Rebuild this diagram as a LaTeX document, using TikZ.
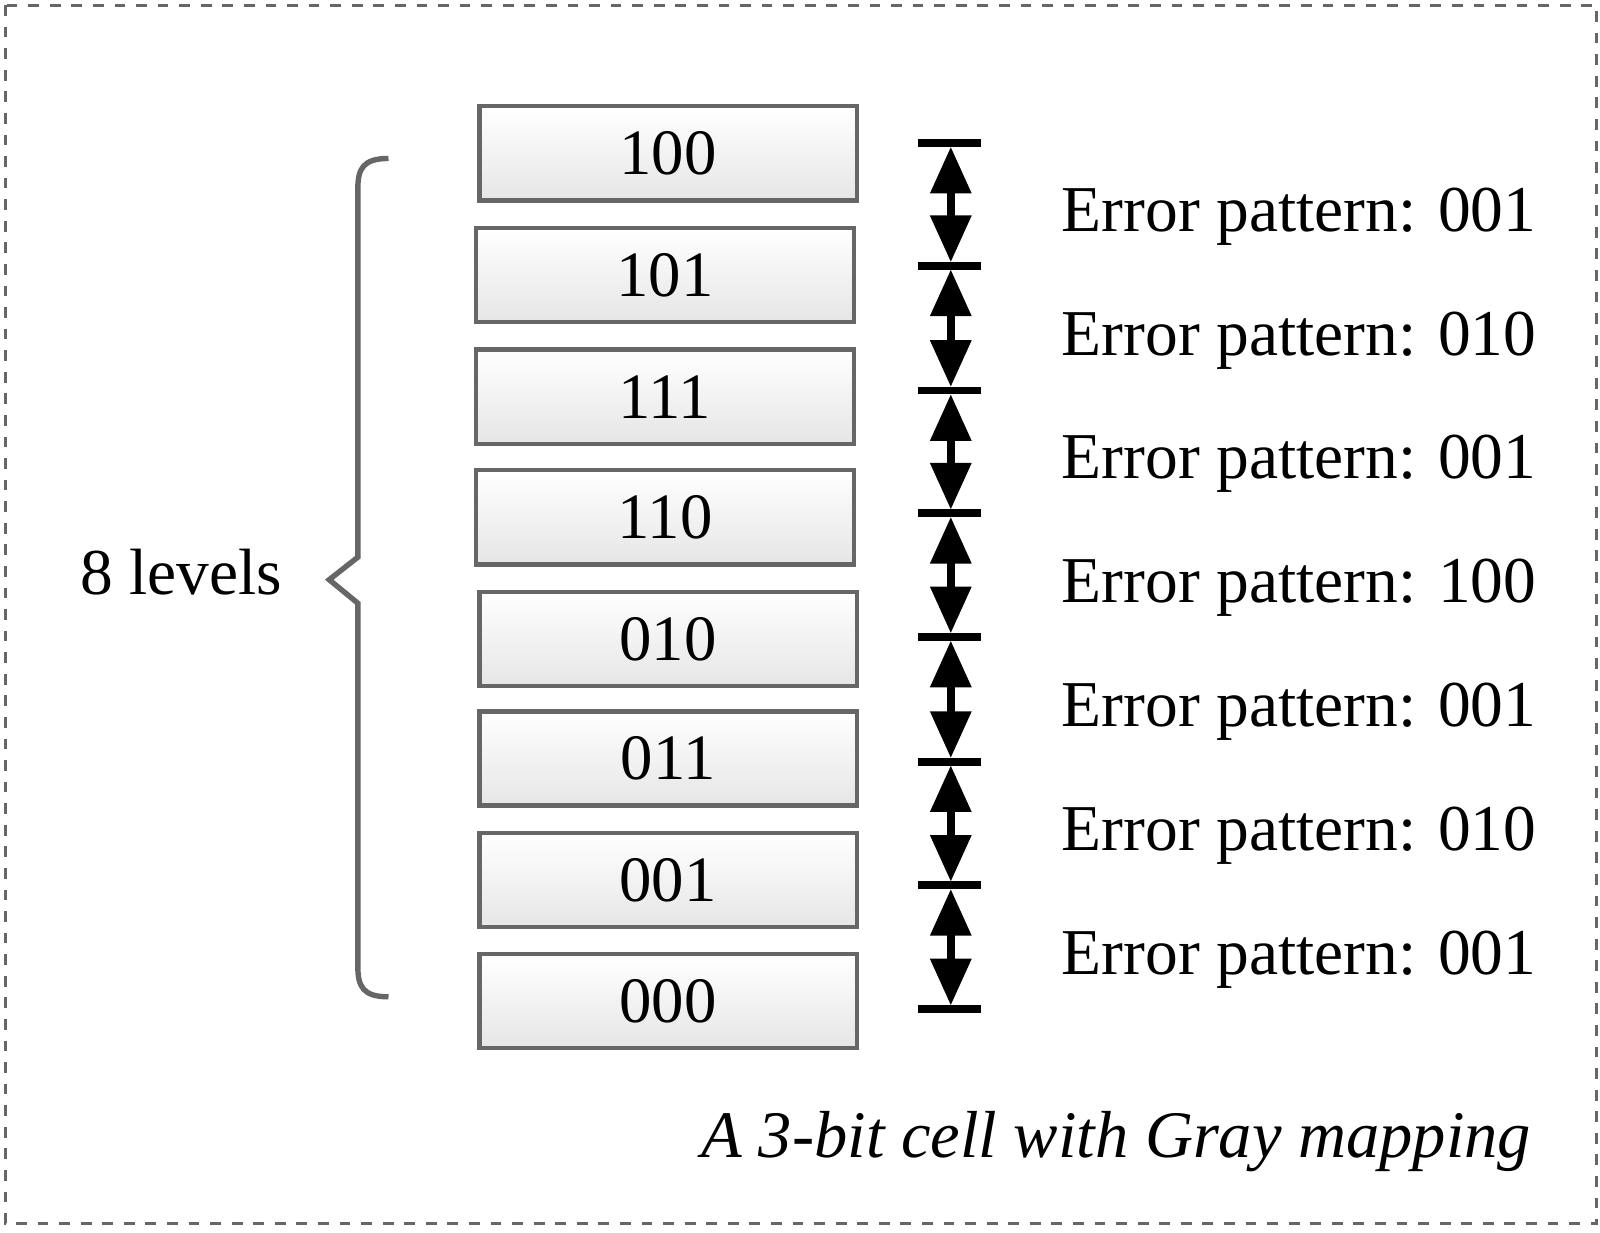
\documentclass[tikz,border=0pt]{standalone}
\usepackage{fontspec}
\setmainfont{Liberation Serif}
\usetikzlibrary{calc, positioning, arrows.meta}

\tikzset{
  levelbox/.style={draw=black!60, line width=1.2pt, top color=white, bottom color=black!10,
    minimum width=3.69cm, minimum height=0.92cm, inner sep=0pt, font=\fontsize{18}{20}\selectfont},
  errlabel/.style={anchor=west, inner sep=0pt, font=\fontsize{18.2}{21}\selectfont},
  tick/.style={line width=2.2pt},
  gap/.style={line width=2.2pt, {Triangle[width=11pt,length=13pt]}-{Triangle[width=11pt,length=13pt]}, shorten <=1pt, shorten >=1pt}
}

\begin{document}
\begin{tikzpicture}[x=0.01cm, y=-0.01cm]
    \useasboundingbox (0,0) rectangle (1565,1206);
    % frame
    \draw[dashed, black!60, line width=0.8pt] (5,5) rectangle (1562,1197);

    % the eight levels
    \foreach \y/\x/\code in {150/653.5/100, 269/650.5/101, 388/650.5/111, 506/650.5/110,
                             625/653.5/010, 742/653.5/011, 861/653.5/001, 979/653.5/000} {
        \node[levelbox] (b\code) at (\x,\y) {\code};
    }

    % ticks
    \foreach \i/\y in {0/140, 1/260, 2/382, 3/502, 4/623, 5/745, 6/866, 7/987} {
        \coordinate (t\i) at (930,\y);
        \draw[tick] (898,\y) -- (960,\y);
    }

    % arrows and error patterns
    \foreach \a/\b/\pat in {0/1/001, 1/2/010, 2/3/001, 3/4/100, 4/5/001, 5/6/010, 6/7/001} {
        \draw[gap] (t\a) -- (t\b);
        \node[errlabel] (e\a) at ($(t\a)!0.6!(t\b) + (108,0)$) {Error pattern: \pat};
    }

    % brace
    \draw[black!60, line width=1.5pt] (380,155) .. controls (355,155) and (350,165) .. (350,185)
        -- (350,545) -- (322,567) -- (350,590) -- (350,945)
        .. controls (350,965) and (355,975) .. (380,975);
    \node[font=\fontsize{18.2}{21}\selectfont] (lev) at (177,560) {8 levels};

    % caption
    \node[anchor=east, font=\fontsize{18.5}{21}\selectfont\itshape] (cap) at (1510,1117) {A 3-bit cell with Gray mapping};
\end{tikzpicture}
\end{document}
